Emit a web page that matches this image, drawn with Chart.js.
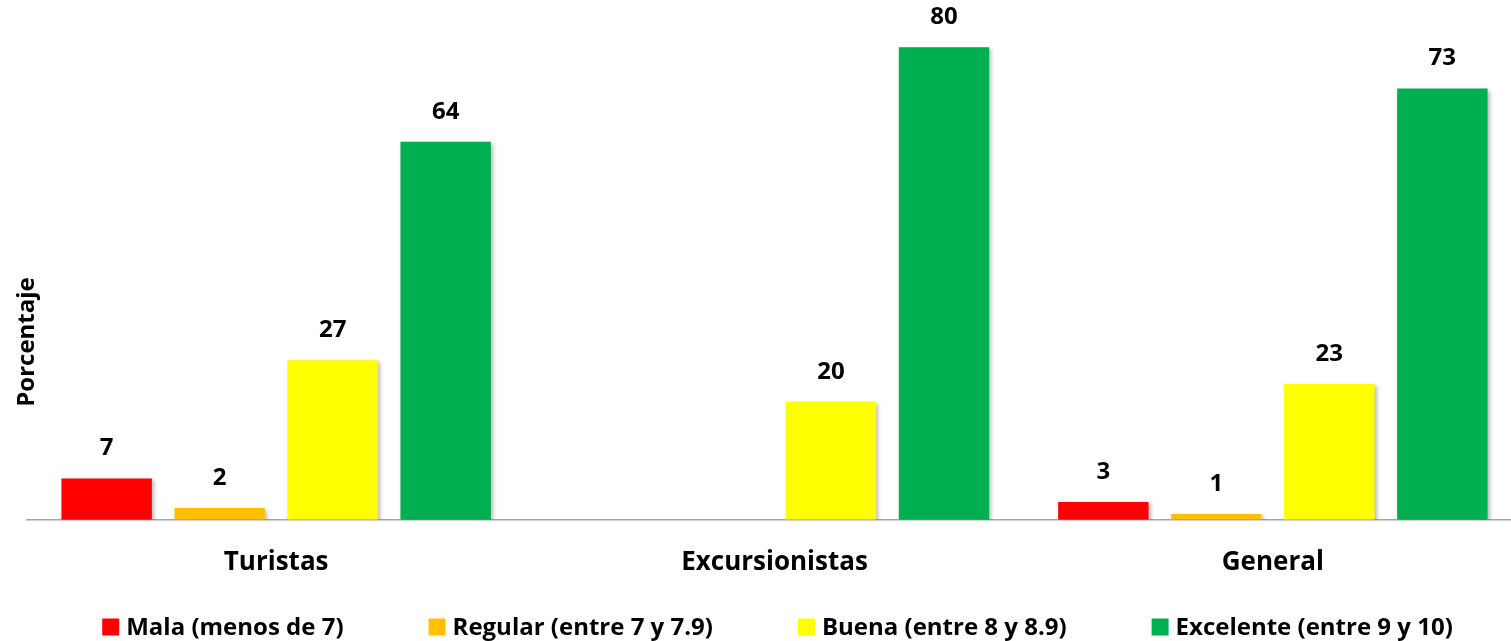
<!DOCTYPE html>
<html>
<head>
<meta charset="utf-8">
<script src="https://cdn.jsdelivr.net/npm/chart.js@4/dist/chart.umd.min.js"></script>
<style>
  html, body { margin: 0; padding: 0; background: #fff; overflow: hidden; }
  #wrap { width: 1540px; height: 641px; }
</style>
</head>
<body>
<div id="wrap"><canvas id="c" width="1540" height="641"></canvas></div>
<script>
// Satisfaction rating by visitor type (percent)
const categories = ['Turistas', 'Excursionistas', 'General'];
const seriesNames = ['Mala (menos de 7)', 'Regular (entre 7 y 7.9)', 'Buena (entre 8 y 8.9)', 'Excelente (entre 9 y 10)'];
const seriesColors = ['#FF0000', '#FFC000', '#FFFF00', '#00B050'];
const mala = [7, null, 3];
const regular = [2, null, 1];
const buena = [27, 20, 23];
const excelente = [64, 80, 73];
const yTitle = 'Porcentaje';

const seriesValues = [mala, regular, buena, excelente];
const FONT = '"Open Sans"';

// Soft drop shadow behind the bars
const barShadow = {
  id: 'barShadow',
  beforeDatasetsDraw(chart) {
    const ctx = chart.ctx;
    ctx.save();
    ctx.shadowColor = 'rgba(0,0,0,0.28)';
    ctx.shadowBlur = 4;
    ctx.shadowOffsetX = 2;
    ctx.shadowOffsetY = 2;
  },
  afterDatasetsDraw(chart) {
    chart.ctx.restore();
  }
};

// Value labels above each bar
const valueLabels = {
  id: 'valueLabels',
  afterDatasetsDraw(chart) {
    const ctx = chart.ctx;
    ctx.save();
    ctx.font = 'bold 24px ' + FONT;
    ctx.fillStyle = '#000';
    ctx.textAlign = 'center';
    ctx.textBaseline = 'middle';
    chart.data.datasets.forEach((ds, i) => {
      const meta = chart.getDatasetMeta(i);
      meta.data.forEach((bar, j) => {
        const v = ds.data[j];
        if (v === null || v === undefined) return;
        ctx.fillText(String(v), bar.x, bar.y - 30);
      });
    });
    ctx.restore();
  }
};

// Rotated value-axis title
const axisTitle = {
  id: 'axisTitle',
  afterDraw(chart) {
    const ctx = chart.ctx;
    ctx.save();
    ctx.translate(27, 342);
    ctx.rotate(-Math.PI / 2);
    ctx.font = 'bold 24px ' + FONT;
    ctx.fillStyle = '#000';
    ctx.textAlign = 'center';
    ctx.textBaseline = 'middle';
    ctx.fillText(yTitle, 0, 0);
    ctx.restore();
  }
};

// Single-row legend along the bottom edge
const bottomLegend = {
  id: 'bottomLegend',
  afterDraw(chart) {
    const ctx = chart.ctx;
    const box = 17, textGap = 7, itemGap = 85;
    ctx.save();
    ctx.font = 'bold 24px ' + FONT;
    ctx.textBaseline = 'middle';
    ctx.textAlign = 'left';
    const widths = seriesNames.map(n => box + textGap + ctx.measureText(n).width);
    const total = widths.reduce((a, b) => a + b, 0) + itemGap * (widths.length - 1);
    const cx = (chart.chartArea.left + chart.chartArea.right) / 2 + 3;
    const y = 627;
    let x = cx - total / 2;
    seriesNames.forEach((n, i) => {
      ctx.fillStyle = seriesColors[i];
      ctx.fillRect(x, y - box / 2, box, box);
      ctx.fillStyle = '#000';
      ctx.fillText(n, x + box + textGap, y + 1);
      x += widths[i] + itemGap;
    });
    ctx.restore();
  }
};

new Chart(document.getElementById('c'), {
  type: 'bar',
  data: {
    labels: categories,
    datasets: seriesNames.map((name, i) => ({
      label: name,
      data: seriesValues[i],
      backgroundColor: seriesColors[i],
      borderWidth: 0,
      categoryPercentage: 0.907,
      barPercentage: 0.8
    }))
  },
  options: {
    responsive: false,
    animation: false,
    layout: { padding: { left: 27, right: 18, top: 0, bottom: 36 } },
    plugins: {
      tooltip: { enabled: false },
      legend: { display: false }
    },
    scales: {
      x: {
        grid: { display: false, drawTicks: false },
        border: { display: true, color: '#A6A6A6', width: 1.5 },
        ticks: {
          color: '#000',
          font: { family: FONT, size: 26, weight: 'bold' },
          padding: 27
        }
      },
      y: {
        display: false,
        min: 0,
        max: 88
      }
    }
  },
  plugins: [barShadow, valueLabels, axisTitle, bottomLegend]
});
</script>
</body>
</html>
